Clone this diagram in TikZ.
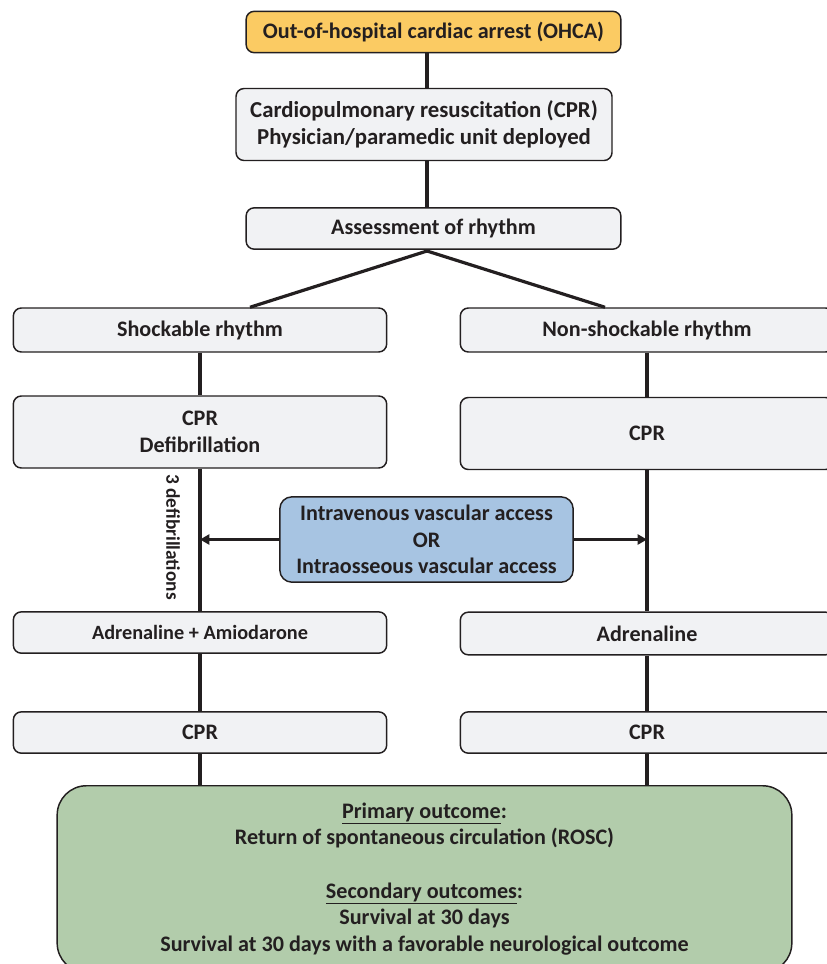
\documentclass[tikz,border=0pt]{standalone}
\usepackage{fontspec}
\setmainfont{Carlito}
\usetikzlibrary{arrows.meta}

\definecolor{ohcayellow}{HTML}{FBCB63}
\definecolor{boxgray}{HTML}{F1F2F4}
\definecolor{accessblue}{HTML}{A7C4E2}
\definecolor{outgreen}{HTML}{B2CCAB}
\definecolor{linegray}{HTML}{231F20}

\tikzset{
  stage/.style={draw=linegray, line width=1.1pt, fill=boxgray, rounded corners=6pt,
    align=center, inner sep=0pt, font=\fontsize{16.6}{20}\selectfont\bfseries, text=linegray},
  link/.style={line width=2.4pt, draw=linegray},
  arr/.style={link, -{Triangle[length=7pt,width=7.5pt]}}
}

\begin{document}
\begin{tikzpicture}[x=0.75pt, y=-0.75pt]
\useasboundingbox (0,0) rectangle (826,964);

\node[stage, fill=ohcayellow, minimum width=281pt, minimum height=31pt] (ohca) at (433.5,32) {Out-of-hospital cardiac arrest (OHCA)};
\node[stage, minimum width=282pt, minimum height=54pt, font=\fontsize{17.1}{20}\selectfont\bfseries] (cpr) at (424,124.5) {Cardiopulmonary resuscitation (CPR)\\Physician/paramedic unit deployed};
\node[stage, minimum width=281pt, minimum height=31pt] (asmt) at (433.5,228.5) {Assessment of rhythm};

%% left branch
\node[stage, minimum width=280pt, minimum height=33pt] (shock) at (200,330) {Shockable rhythm};
\node[stage, minimum width=280pt, minimum height=54pt] (defib) at (200,432) {CPR\\Defibrillation};
\node[stage, minimum width=280pt, minimum height=31pt, font=\fontsize{15.2}{18}\selectfont\bfseries] (amio) at (200,632.5) {Adrenaline + Amiodarone};
\node[stage, minimum width=280pt, minimum height=31pt] (cprL) at (200,732.5) {CPR};

%% right branch
\node[stage, minimum width=280pt, minimum height=33pt] (noshock) at (647,330) {Non-shockable rhythm};
\node[stage, minimum width=280pt, minimum height=54pt] (cprN) at (647,433.5) {CPR};
\node[stage, minimum width=280pt, minimum height=32pt] (adren) at (647,633.5) {Adrenaline};
\node[stage, minimum width=280pt, minimum height=31pt] (cprR) at (647,732.5) {CPR};

\node[stage, fill=accessblue, minimum width=220pt, minimum height=64pt, rounded corners=9pt] (access) at (426.5,539.5) {Intravenous vascular access\\OR\\Intraosseous vascular access};

\node[stage, fill=outgreen, minimum width=551pt, minimum height=140pt, rounded corners=22pt, anchor=north] (outc) at (424.5,785) {\underline{Primary outcome}:\\Return of spontaneous circulation (ROSC)\\[20pt]\underline{Secondary outcomes}:\\Survival at 30 days\\Survival at 30 days with a favorable neurological outcome};

\node[rotate=-90, font=\fontsize{14.5}{16}\selectfont\bfseries, text=linegray] (shocks) at (173,537) {3 defibrillations};

\coordinate (spine) at (427,0);
\coordinate (fork) at (427,251);

\draw[link] (ohca.south -| spine) -- (cpr.north -| spine);
\draw[link] (cpr.south -| spine) -- (asmt.north -| spine);
\draw[link] (shock.north -| 250,0) -- (fork) -- (noshock.north -| 605,0);

\draw[link] (shock) -- (defib);
\draw[link] (defib) -- (amio);
\draw[link] (amio) -- (cprL);
\draw[link] (cprL.south) -- (cprL.south |- outc.north);

\draw[link] (noshock) -- (cprN);
\draw[link] (cprN) -- (adren);
\draw[link] (adren) -- (cprR);
\draw[link] (cprR.south) -- (cprR.south |- outc.north);

\draw[arr] (access.west) -- (access.west -| defib);
\draw[arr] (access.east) -- (access.east -| cprN);

\end{tikzpicture}
\end{document}
